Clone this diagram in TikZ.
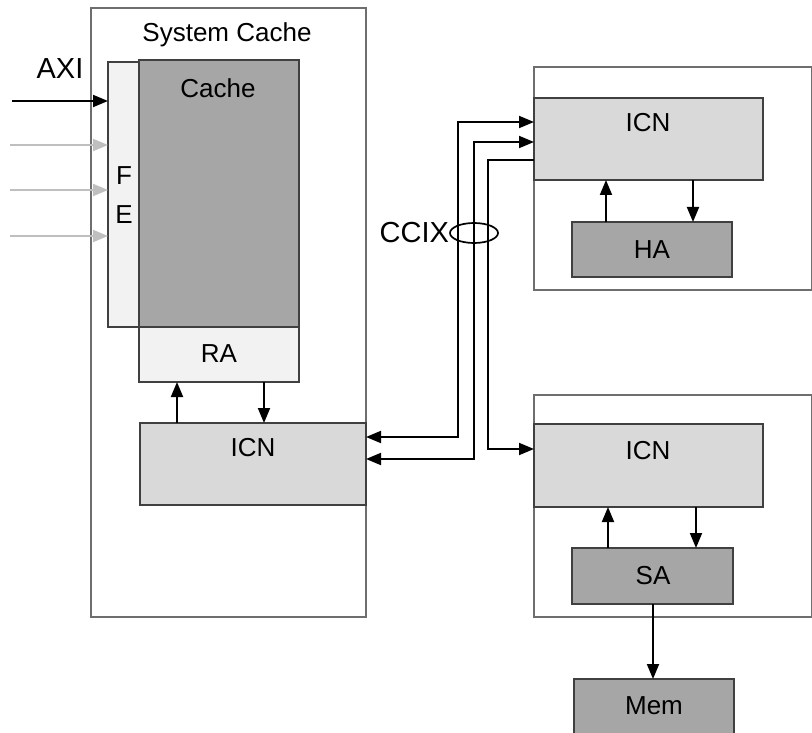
\documentclass[tikz,border=0pt]{standalone}
\usepackage{fontspec}
\setmainfont{Liberation Sans}
\usetikzlibrary{arrows.meta,shapes.geometric}
\definecolor{outline}{HTML}{404040}
\definecolor{frame}{HTML}{6E6E6E}
\definecolor{darkfill}{HTML}{A6A6A6}
\definecolor{midfill}{HTML}{D9D9D9}
\definecolor{lightfill}{HTML}{F2F2F2}
\definecolor{grayarrow}{HTML}{BFBFBF}
\begin{document}
\begin{tikzpicture}[x=1pt,y=-1pt,
  blk/.style={draw=outline, line width=1.3pt, inner sep=0pt, outer sep=0pt, anchor=north west},
  framebox/.style={draw=frame, line width=1.3pt, inner sep=0pt, outer sep=0pt, anchor=north west},
  lbl/.style={inner sep=0pt, font=\fontsize{26}{30}\selectfont},
  biglbl/.style={inner sep=0pt, font=\fontsize{29}{33}\selectfont},
  arr/.style={line width=1.9pt, -{Triangle[length=15pt,width=12pt]}},
  darr/.style={line width=1.9pt, {Triangle[length=15pt,width=12pt]}-{Triangle[length=15pt,width=12pt]}},
  garr/.style={line width=1.9pt, draw=grayarrow, -{Triangle[length=15pt,width=12pt,fill=grayarrow]}}
]
\useasboundingbox (0,0) rectangle (812,733);
\clip (0,0) rectangle (812,733);
\fill[white] (0,0) rectangle (812,733);

% ---- System cache (left) ----
\node[framebox, minimum width=275, minimum height=609] (sys) at (91,8) {};
\node[lbl, anchor=base] (systxt) at (227,42) {System Cache};
\node[blk, fill=lightfill, minimum width=31, minimum height=265] (fe) at (108,62) {};
\node[blk, fill=darkfill, minimum width=160, minimum height=267] (cache) at (139,60) {};
\node[lbl] (cachetxt) at (218,88) {Cache};
\node[blk, fill=lightfill, minimum width=160, minimum height=55] (ra) at (139,327) {};
\node[lbl] (ratxt) at (219,354) {RA};
\node[blk, fill=midfill, minimum width=226, minimum height=82] (icnL) at (140,423) {};
\node[lbl] (icnLtxt) at (253,448) {ICN};
\node[lbl] (ftxt) at (124,176) {F};
\node[lbl] (etxt) at (124,215) {E};

\coordinate (ua) at (177,0);
\coordinate (da) at (264,0);
\draw[arr] (ua |- icnL.north) -- (ua |- ra.south);
\draw[arr] (da |- ra.south) -- (da |- icnL.north);

% ---- inputs ----
\node[biglbl] (axi) at (60,69) {AXI};
\coordinate (axin) at (12,101);
\draw[arr] (axin) -- (axin -| fe.west);
\coordinate (g1) at (10,145);
\coordinate (g2) at (10,190);
\coordinate (g3) at (10,236);
\draw[garr] (g1) -- (g1 -| fe.west);
\draw[garr] (g2) -- (g2 -| fe.west);
\draw[garr] (g3) -- (g3 -| fe.west);

% ---- top right ----
\node[framebox, minimum width=278, minimum height=223] (topbox) at (534,67) {};
\node[blk, fill=midfill, minimum width=229, minimum height=82] (icnT) at (534,98) {};
\node[lbl] (icnTtxt) at (648,123) {ICN};
\node[blk, fill=darkfill, minimum width=160, minimum height=55] (ha) at (572,222) {};
\node[lbl] (hatxt) at (652,250) {HA};
\coordinate (hu) at (606,0);
\coordinate (hd) at (693,0);
\draw[arr] (hu |- ha.north) -- (hu |- icnT.south);
\draw[arr] (hd |- icnT.south) -- (hd |- ha.north);

% ---- bottom right ----
\node[framebox, minimum width=278, minimum height=222] (botbox) at (534,395) {};
\node[blk, fill=midfill, minimum width=229, minimum height=83] (icnB) at (534,424) {};
\node[lbl] (icnBtxt) at (648,451) {ICN};
\node[blk, fill=darkfill, minimum width=161, minimum height=56] (sa) at (572,548) {};
\node[lbl] (satxt) at (653,576) {SA};
\coordinate (su) at (608,0);
\coordinate (sd) at (696,0);
\draw[arr] (su |- sa.north) -- (su |- icnB.south);
\draw[arr] (sd |- icnB.south) -- (sd |- sa.north);
\node[blk, fill=darkfill, minimum width=160, minimum height=70] (mem) at (574,679) {};
\node[lbl] (memtxt) at (654,706) {Mem};
\coordinate (md) at (653,0);
\draw[arr] (md |- sa.south) -- (md |- mem.north);

% ---- CCIX links ----
\coordinate (l1a) at (0,437);
\coordinate (l1b) at (0,122);
\coordinate (l2a) at (0,459);
\coordinate (l2b) at (0,142);
\coordinate (l3a) at (0,160);
\coordinate (l3b) at (0,449);
\draw[darr] (icnL.east |- l1a) -| (458,122) -- (icnT.west |- l1b);
\draw[darr] (icnL.east |- l2a) -| (474,142) -- (icnT.west |- l2b);
\draw[arr] (icnT.west |- l3a) -| (488,449) -- (icnB.west |- l3b);

\node[draw, line width=1.7pt, ellipse, minimum width=48, minimum height=20, inner sep=0pt] (ring) at (474,233) {};
\node[biglbl, anchor=east] (ccix) at (ring.west) {CCIX};
\end{tikzpicture}
\end{document}
